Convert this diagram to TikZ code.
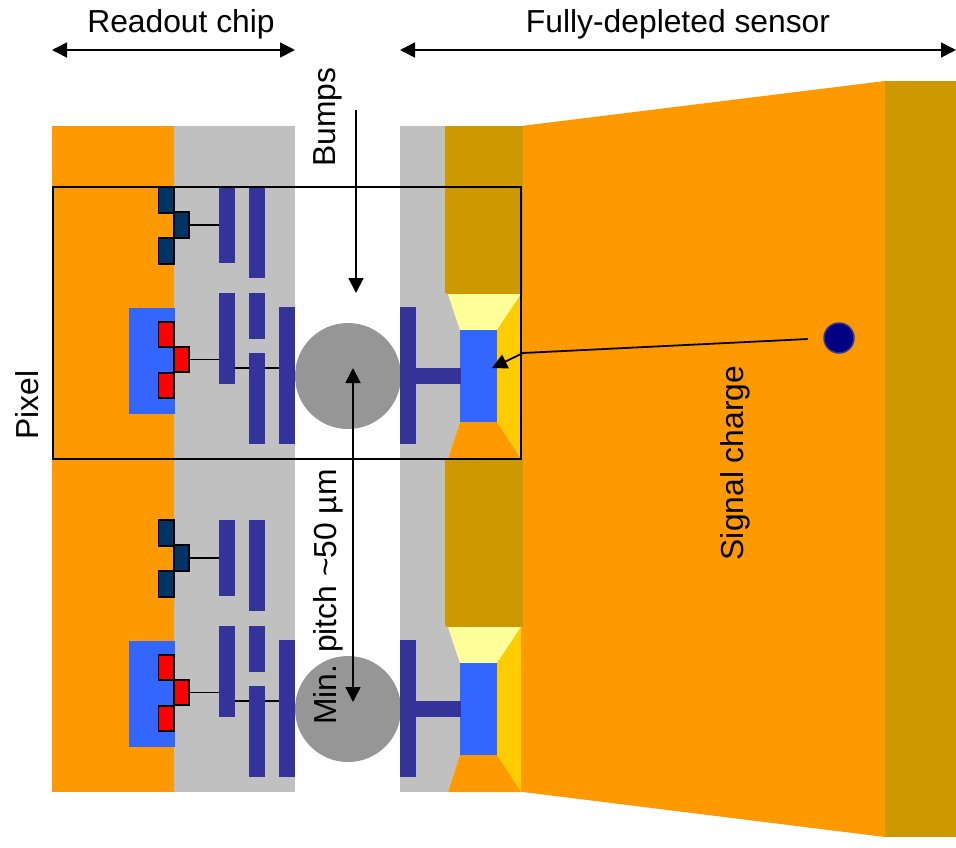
\documentclass[tikz,border=0pt]{standalone}
\usepackage{fontspec}
\setmainfont{Liberation Sans}
\usetikzlibrary{arrows.meta}
\definecolor{cOrange}{HTML}{FF9900}
\definecolor{cGray}{HTML}{C0C0C0}
\definecolor{cGold}{HTML}{CC9900}
\definecolor{cBar}{HTML}{333399}
\definecolor{cBlue}{HTML}{3366FF}
\definecolor{cPale}{HTML}{FFFF99}
\definecolor{cAmber}{HTML}{FFCC00}
\definecolor{cBump}{HTML}{969696}
\definecolor{cDark}{HTML}{003366}
\definecolor{cNavy}{HTML}{000080}
\tikzset{
  box/.style={inner sep=0pt,outer sep=0pt,anchor=north west},
  barbox/.style={box,fill=cBar},
  tbox/.style={box,draw=black,line width=1.4pt},
  wire/.style={draw=black,line width=1.4pt},
  arrowline/.style={draw=black,line width=1.8pt},
  tip/.style={-{Triangle[length=15pt,width=15pt]}},
  twotip/.style={{Triangle[length=15pt,width=15pt]}-{Triangle[length=15pt,width=15pt]}},
  label/.style={font=\fontsize{31.8}{32}\selectfont,inner sep=0pt,text=black},
}
% \rbox{name}{style}{x1}{y1}{x2}{y2}
\newcommand{\rbox}[6]{\node[#2,minimum width={(#5-#3)*1pt},minimum height={(#6-#4)*1pt}] (#1) at (#3,#4) {};}
\begin{document}
\begin{tikzpicture}[x=1pt,y=-1pt]
\useasboundingbox (0,0) rectangle (956,847);
% substrate regions
\rbox{chip}{box,fill=cOrange}{52}{126}{174}{792}
\rbox{metal}{box,fill=cGray}{174}{126}{295}{792}
\rbox{smetal}{box,fill=cGray}{400}{126}{446}{792}
\fill[cOrange] (521,126) -- (885,81) -- (885,837) -- (523,792) -- (521,792) -- cycle;
\rbox{back}{box,fill=cGold}{885}{81}{956}{837}
\rbox{goldA}{box,fill=cGold}{445}{126}{523}{294}
\rbox{goldB}{box,fill=cGold}{445}{459}{523}{627}
% two pixel rows
\foreach \r/\off in {1/0,2/333}{
  \begin{scope}[shift={(0,\off)}]
    \coordinate (v\r) at (0,368);
    % front-end blue well
    \rbox{well\r}{box,fill=cBlue}{129}{308}{175}{414}
    % transistors
    \rbox{da\r}{tbox,fill=cDark}{158.5}{187}{174}{213}
    \rbox{db\r}{tbox,fill=cDark}{174}{212}{189}{238}
    \rbox{dc\r}{tbox,fill=cDark}{158.5}{238}{174}{264}
    \rbox{ra\r}{tbox,fill=red}{158.5}{322}{174}{347}
    \rbox{rb\r}{tbox,fill=red}{174}{347}{189}{372}
    \rbox{rc\r}{tbox,fill=red}{158.5}{373}{174}{398}
    % metal bars
    \rbox{m1\r}{barbox}{219}{187}{235}{263}
    \rbox{m2\r}{barbox}{249}{187}{265}{278}
    \rbox{m3\r}{barbox}{219}{293}{235}{384}
    \rbox{m4\r}{barbox}{249}{293}{265}{339}
    \rbox{m5\r}{barbox}{249}{353}{265}{444}
    \rbox{m6\r}{barbox}{279}{307}{295}{444}
    % wires
    \draw[wire] (db\r.east) -- (db\r.east -| m1\r.west);
    \draw[wire] (rb\r.east) -- (rb\r.east -| m3\r.west);
    \draw[wire] (v\r -| m3\r.east) -- (v\r -| m5\r.west);
    \draw[wire] (v\r -| m5\r.east) -- (v\r -| m6\r.west);
    % sensor side implant
    \fill[cGray] (445,293) -- (448,294) -- (460,330) -- (460,422) -- (448,459) -- (445,459) -- cycle;
    \fill[cPale] (448,294) -- (521,294) -- (497,330) -- (460,330) -- cycle;
    \fill[cAmber] (521,294) -- (497,330) -- (497,422) -- (521,459) -- cycle;
    \fill[cOrange] (460,422) -- (497,422) -- (521,459) -- (448,459) -- cycle;
    \rbox{col\r}{box,fill=cBlue}{460}{330}{497}{422}
    % bump and sensor metal
    \node[circle,fill=cBump,inner sep=0pt,outer sep=0pt,minimum size=106pt] (bump\r) at (348,376) {};
    \rbox{s\r}{barbox}{400}{307}{416}{444}
    \rbox{stem\r}{barbox}{416}{368}{461}{384}
  \end{scope}
}
% pixel frame
\node[box,draw=black,line width=2pt,minimum width=468pt,minimum height=272pt] (pixel) at (53,187) {};
% signal charge
\node[circle,fill=cNavy,draw=cBar,line width=1.5pt,inner sep=0pt,outer sep=0pt,minimum size=30pt] (charge) at (839,338) {};
\coordinate (chargeEnd) at (808,339);
\coordinate (kink) at (523,353);
\coordinate (chargeTip) at (492,368);
\draw[arrowline,tip] (chargeEnd) -- (kink) -- (chargeTip);
% labels
\node[label] (lread) at (181,24) {Readout chip};
\node[label] (lsens) at (678,24) {Fully-depleted sensor};
\node[label,rotate=90] (lbump) at (328,117) {Bumps};
\node[label,rotate=90] (lpix) at (27,405) {Pixel};
\node[label,rotate=90] (lsig) at (735,463) {Signal charge};
\node[label,rotate=90] (lpitch) at (328,597) {Min. pitch \textasciitilde 50 µm};
% dimension arrows
\coordinate (ra) at (52,50); \coordinate (rb) at (295,50);
\coordinate (sa) at (400,50); \coordinate (sb) at (956,50);
\draw[arrowline,twotip] (ra) -- (rb);
\draw[arrowline,twotip] (sa) -- (sb);
\coordinate (bumpTop) at (356,110); \coordinate (bumpTip) at (356,293);
\draw[arrowline,tip] (bumpTop) -- (bumpTip);
\coordinate (pa) at (353,368); \coordinate (pb) at (353,702);
\draw[arrowline,twotip] (pa) -- (pb);
\end{tikzpicture}
\end{document}
